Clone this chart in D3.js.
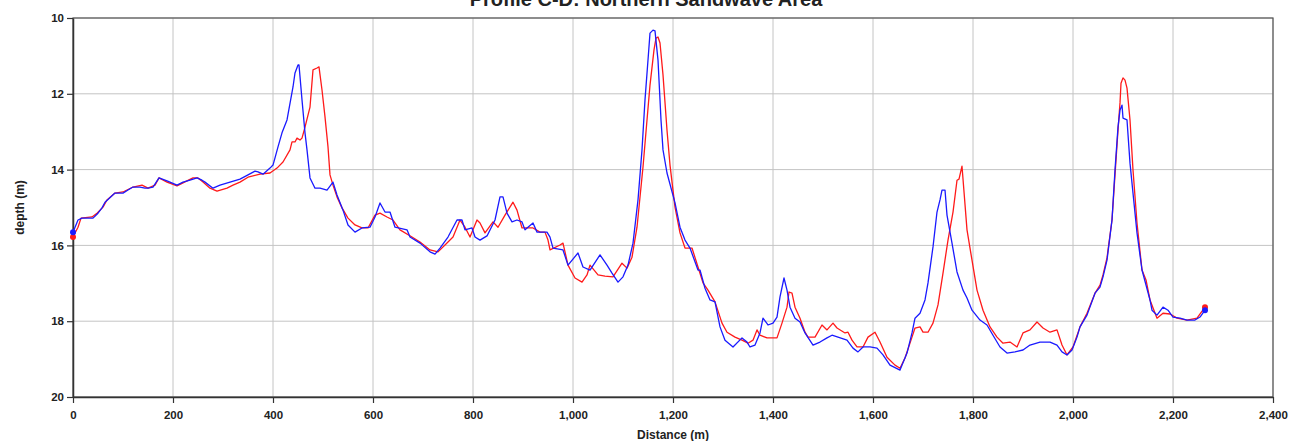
<!DOCTYPE html>
<html>
<head>
<meta charset="utf-8">
<script src="https://cdn.jsdelivr.net/npm/d3@7"></script>
<style>
  body { margin: 0; background: #fff; }
  text { font-family: "Liberation Sans", Arial, sans-serif; font-weight: bold; fill: #222; }
</style>
</head>
<body>
<svg id="chart" width="1293" height="441"></svg>
<script>
var title = "Profile C-D: Northern Sandwave Area";
var xTicks = [0, 200, 400, 600, 800, 1000, 1200, 1400, 1600, 1800, 2000, 2200, 2400];
var yTicks = [10, 12, 14, 16, 18, 20];

// blue profile
var blueDist = [0,10,18,40,50,58,64,84,100,110,120,134,144,150,160,172,188,208,220,234,248,258,264,280,294,314,334,350,364,370,380,394,400,404,410,418,428,440,444,450,452,458,464,468,474,484,494,508,520,528,540,550,564,578,594,604,614,624,634,644,668,674,694,714,724,734,750,768,778,784,798,804,814,828,844,854,860,868,878,888,898,904,920,928,948,954,960,980,990,1010,1020,1034,1054,1068,1078,1090,1100,1110,1120,1130,1138,1144,1150,1154,1160,1164,1170,1176,1180,1188,1204,1214,1224,1234,1250,1254,1264,1274,1284,1294,1304,1320,1338,1348,1354,1364,1374,1380,1390,1400,1408,1414,1422,1428,1434,1444,1454,1464,1480,1494,1508,1518,1530,1548,1560,1570,1580,1594,1608,1620,1634,1654,1668,1678,1684,1694,1704,1710,1720,1728,1734,1738,1744,1748,1758,1768,1780,1788,1798,1814,1828,1840,1854,1868,1884,1900,1914,1934,1954,1968,1978,1988,1998,2008,2014,2028,2044,2054,2060,2068,2078,2084,2090,2094,2098,2100,2108,2114,2120,2128,2138,2154,2158,2168,2180,2190,2200,2214,2228,2244,2254,2264];
var blueDepth = [15.65,15.33,15.28,15.28,15.15,15.01,14.86,14.62,14.62,14.54,14.46,14.46,14.49,14.49,14.46,14.22,14.30,14.41,14.33,14.28,14.22,14.28,14.33,14.49,14.41,14.33,14.25,14.14,14.04,14.06,14.12,13.96,13.88,13.69,13.40,13.03,12.69,11.82,11.45,11.24,11.24,12.16,13.03,13.48,14.22,14.49,14.49,14.54,14.33,14.67,15.07,15.46,15.65,15.54,15.52,15.25,14.88,15.12,15.12,15.52,15.59,15.78,15.94,16.17,16.23,16.07,15.78,15.33,15.33,15.59,15.54,15.78,15.86,15.75,15.33,14.72,14.72,15.15,15.38,15.33,15.38,15.59,15.41,15.65,15.65,15.78,16.07,16.12,16.52,16.20,16.57,16.65,16.25,16.52,16.73,16.97,16.83,16.52,15.94,14.80,13.48,12.16,11.11,10.40,10.32,10.34,11.11,12.69,13.48,14.09,14.88,15.52,15.86,16.07,16.65,16.65,17.13,17.44,17.49,18.15,18.50,18.68,18.44,18.55,18.68,18.63,18.31,17.92,18.10,18.05,17.89,17.36,16.86,17.18,17.63,17.92,18.02,18.31,18.63,18.55,18.44,18.37,18.42,18.50,18.71,18.81,18.68,18.68,18.71,18.89,19.16,19.29,18.84,18.31,17.92,17.79,17.44,16.99,16.04,15.12,14.80,14.54,14.54,15.20,15.94,16.70,17.18,17.39,17.71,17.97,18.10,18.37,18.68,18.84,18.81,18.76,18.63,18.55,18.55,18.63,18.81,18.89,18.76,18.42,18.15,17.84,17.26,17.10,16.83,16.39,15.33,14.01,12.88,12.43,12.30,12.64,12.69,13.83,14.62,15.67,16.65,17.44,17.71,17.84,17.63,17.71,17.89,17.92,17.97,17.97,17.89,17.71];

// red profile
var redDist = [0,10,16,38,48,60,68,84,100,120,138,150,164,172,188,208,220,240,250,260,274,288,308,320,334,350,374,394,408,420,434,438,444,448,454,458,464,474,480,488,492,498,504,510,514,520,528,538,550,564,578,590,604,614,628,640,654,678,694,714,730,744,760,774,784,794,808,814,824,840,850,864,880,888,898,920,934,944,950,954,974,980,990,1004,1018,1028,1034,1050,1064,1080,1098,1108,1118,1128,1140,1148,1154,1162,1166,1170,1174,1180,1188,1194,1204,1214,1224,1238,1250,1260,1270,1284,1298,1308,1324,1338,1350,1360,1368,1374,1388,1408,1418,1428,1432,1438,1444,1454,1464,1470,1484,1498,1508,1520,1528,1544,1550,1558,1568,1580,1590,1604,1614,1628,1644,1654,1664,1678,1684,1694,1700,1710,1720,1730,1740,1750,1760,1768,1772,1778,1788,1798,1808,1820,1834,1848,1860,1874,1888,1900,1914,1928,1940,1954,1968,1978,1988,2000,2014,2028,2044,2054,2060,2068,2078,2084,2090,2094,2096,2100,2104,2108,2114,2120,2128,2138,2146,2154,2168,2180,2194,2208,2228,2248,2264];
var redDepth = [15.78,15.52,15.28,15.25,15.15,14.99,14.80,14.62,14.59,14.46,14.41,14.49,14.41,14.22,14.33,14.43,14.35,14.22,14.22,14.33,14.49,14.57,14.49,14.41,14.33,14.20,14.12,14.09,13.96,13.80,13.48,13.27,13.27,13.17,13.22,13.17,12.88,12.35,11.37,11.32,11.29,11.90,12.61,13.40,14.14,14.41,14.72,15.01,15.28,15.46,15.54,15.54,15.20,15.15,15.25,15.33,15.59,15.78,15.91,16.12,16.17,15.99,15.78,15.33,15.52,15.78,15.33,15.41,15.67,15.38,15.52,15.20,14.86,15.07,15.54,15.54,15.65,15.65,15.86,16.12,15.99,15.94,16.52,16.86,16.97,16.78,16.52,16.78,16.81,16.83,16.47,16.60,16.31,15.52,13.93,12.69,11.77,10.84,10.53,10.50,10.66,11.50,12.96,13.88,14.99,15.67,16.07,16.07,16.57,16.99,17.18,17.49,18.05,18.29,18.42,18.50,18.58,18.50,18.23,18.37,18.44,18.44,18.05,17.63,17.23,17.26,17.63,17.92,18.29,18.42,18.42,18.10,18.23,18.05,18.18,18.31,18.29,18.50,18.68,18.68,18.42,18.29,18.55,18.95,19.16,19.24,18.97,18.42,18.18,18.15,18.29,18.29,18.05,17.57,16.73,15.86,15.12,14.28,14.25,13.91,15.59,16.39,17.18,17.71,18.15,18.42,18.58,18.55,18.68,18.31,18.23,18.02,18.18,18.29,18.23,18.63,18.89,18.68,18.15,17.79,17.26,17.05,16.78,16.33,15.33,14.14,12.96,12.24,11.72,11.58,11.64,11.85,12.69,14.01,15.41,16.65,16.91,17.44,17.92,17.79,17.81,17.92,17.97,17.92,17.63];

var svg = d3.select('#chart');
var plotLeft = 73, plotRight = 1273, plotTop = 18, plotBottom = 397;

var x = d3.scaleLinear().domain([0, 2400]).range([plotLeft, plotRight]);
var y = d3.scaleLinear().domain([10, 20]).range([plotTop, plotBottom]);

// grid
svg.append('g').selectAll('line').data(xTicks).enter().append('line')
  .attr('x1', function(d){return x(d);}).attr('x2', function(d){return x(d);})
  .attr('y1', plotTop).attr('y2', plotBottom)
  .attr('stroke', '#c4c4c4').attr('stroke-width', 1);
svg.append('g').selectAll('line').data(yTicks).enter().append('line')
  .attr('y1', function(d){return y(d);}).attr('y2', function(d){return y(d);})
  .attr('x1', plotLeft).attr('x2', plotRight)
  .attr('stroke', '#c4c4c4').attr('stroke-width', 1);

// frame
svg.append('rect')
  .attr('x', plotLeft).attr('y', plotTop)
  .attr('width', plotRight - plotLeft).attr('height', plotBottom - plotTop)
  .attr('fill', 'none').attr('stroke', '#555').attr('stroke-width', 1.2);

var xAxis = svg.append('g')
  .attr('transform', 'translate(0,' + plotBottom + ')')
  .call(d3.axisBottom(x).tickValues(xTicks).tickSize(6).tickSizeOuter(0).tickFormat(d3.format(',')));
var yAxis = svg.append('g')
  .attr('transform', 'translate(' + plotLeft + ',0)')
  .call(d3.axisLeft(y).tickValues(yTicks).tickSize(6).tickSizeOuter(0).tickFormat(d3.format('d')));

[xAxis, yAxis].forEach(function(a){
  a.select('.domain').attr('stroke', '#333').attr('stroke-width', 1.5);
  a.selectAll('.tick line').attr('stroke', '#333').attr('stroke-width', 1.2);
  a.selectAll('.tick text').attr('font-size', '11.5px')
    .style('font-family', '"Liberation Sans", Arial, sans-serif').style('font-weight', 'bold').attr('fill', '#222');
});
xAxis.selectAll('.tick text').attr('dy', '1.1em');

// profiles
var series = [
  {dist: redDist, depth: redDepth, color: '#ff1a1a'},
  {dist: blueDist, depth: blueDepth, color: '#1a1aff'}
];
var line = d3.line()
  .x(function(d){return x(d[0]);})
  .y(function(d){return y(d[1]);});

series.forEach(function(s){
  var pts = d3.zip(s.dist, s.depth);
  svg.append('path').datum(pts)
    .attr('d', line)
    .attr('fill', 'none')
    .attr('stroke', s.color)
    .attr('stroke-width', 1.3)
    .attr('stroke-linejoin', 'round');
  svg.append('g').selectAll('circle').data([pts[0], pts[pts.length - 1]]).enter()
    .append('circle')
    .attr('cx', function(d){return x(d[0]);})
    .attr('cy', function(d){return y(d[1]);})
    .attr('r', 3)
    .attr('fill', s.color);
});

// titles (the main title sits partly above the page edge, as in the source)
svg.append('text')
  .attr('x', 646).attr('y', 6)
  .attr('text-anchor', 'middle')
  .attr('font-size', '20px')
  .text(title);
svg.append('text')
  .attr('x', (plotLeft + plotRight) / 2).attr('y', 439)
  .attr('text-anchor', 'middle')
  .attr('font-size', '12px')
  .text('Distance (m)');
svg.append('text')
  .attr('transform', 'translate(24,' + ((plotTop + plotBottom) / 2) + ') rotate(-90)')
  .attr('text-anchor', 'middle')
  .attr('font-size', '12px')
  .text('depth (m)');
</script>
</body>
</html>
